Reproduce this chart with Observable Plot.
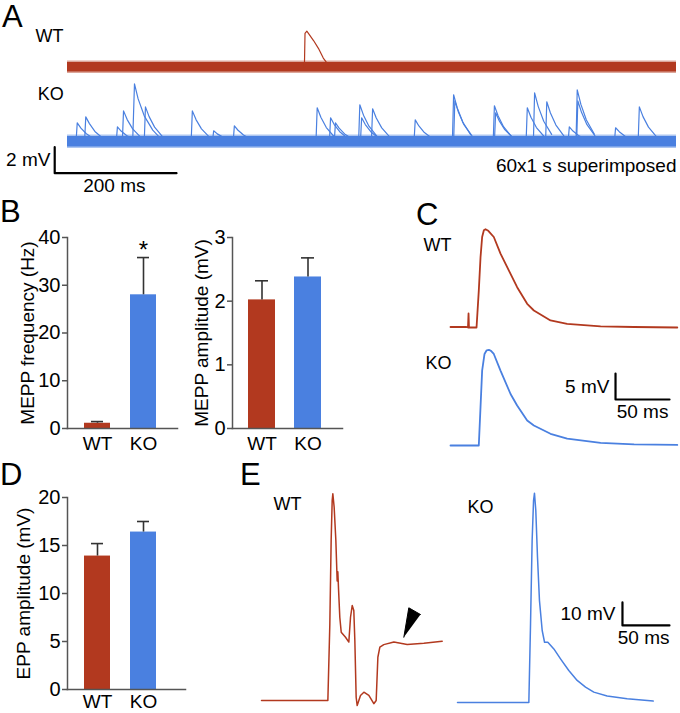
<!DOCTYPE html>
<html>
<head>
<meta charset="utf-8">
<script src="https://cdn.jsdelivr.net/npm/d3@7"></script>
<script src="https://cdn.jsdelivr.net/npm/@observablehq/plot@0.6"></script>
<style>
  html, body { margin: 0; padding: 0; background: #fff; }
  #fig { position: relative; width: 680px; height: 713px; overflow: hidden;
         font-family: "Liberation Sans", Arial, Helvetica, sans-serif; color: #000; }
  #fig svg { position: absolute; background: transparent !important; overflow: visible; }
  .letter { position: absolute; font-size: 31px; line-height: 31px; }
</style>
</head>
<body>
<div id="fig"></div>
<script>
// ---------------- DATA ----------------
// Panel A: 60 x 1 s sweeps superimposed (time in ms, voltage in mV relative to baseline)
const sweepSpanMs = [0, 1000];
const wtNoiseHalfWidth = 0.36;   // mV, half-thickness of the dense noise band
const koNoiseHalfWidth = 0.4;
const noiseFringe = 0.12;        // mV, lighter ragged fringe of the band
const koBaselineOffset = -5.74;  // mV, vertical offset of the KO row
const wtEventsA = [
  [[389,0],[390,2.6],[393,2.77],[404,2.05],[412,1.45],[420,0.7],[428,0.2]]
];
const koEventsA = [
  [[14,0],[16,1.46],[22,1.05],[31,0.62],[44,0.2]],
  [[28,0],[30,1.92],[36,1.4],[45,0.8],[58,0.28]],
  [[80,0],[82,1.15],[88,0.83],[97,0.48],[110,0.17]],
  [[90,0],[92,2.38],[98,1.71],[107,1.0],[120,0.36]],
  [[107,0],[110,4.46],[116,3.3],[126,2.0],[140,0.9],[150,0.4]],
  [[126,0],[128,2.69],[134,1.94],[143,1.13],[156,0.4]],
  [[203,0],[205,2.38],[211,1.71],[220,1.0],[233,0.36]],
  [[238,0],[240,0.85],[246,0.61],[255,0.36],[268,0.13]],
  [[272,0],[274,1.23],[280,0.89],[289,0.52],[302,0.18]],
  [[408,0],[410,2.62],[416,1.89],[425,1.1],[438,0.39]],
  [[430,0],[432,1.85],[438,1.33],[447,0.78],[460,0.28]],
  [[438,0],[440,1.46],[446,1.05],[455,0.61],[468,0.22]],
  [[478,0],[480,2.85],[486,2.05],[495,1.2],[508,0.43]],
  [[481,0],[483,1.85],[489,1.33],[498,0.78],[511,0.28]],
  [[499,0],[501,2.54],[507,1.83],[516,1.07],[529,0.38]],
  [[569,0],[571,1.69],[577,1.22],[586,0.71],[599,0.25]],
  [[632,0],[634,3.62],[640,2.61],[649,1.52],[662,0.54]],
  [[634,0],[636,3.15],[642,2.27],[651,1.32],[664,0.47]],
  [[699,0],[701,2.77],[707,2.0],[716,1.16],[729,0.42]],
  [[701,0],[703,2.23],[709,1.61],[718,0.94],[731,0.33]],
  [[753,0],[755,2.62],[761,1.89],[770,1.1],[783,0.39]],
  [[765,0],[767,3.77],[773,2.71],[782,1.58],[795,0.57]],
  [[785,0],[787,3.08],[793,2.22],[802,1.29],[815,0.46]],
  [[822,0],[824,1.15],[830,0.83],[839,0.48],[852,0.17]],
  [[835,0],[837,4.0],[843,2.88],[852,1.68],[865,0.6]],
  [[836,0],[838,3.15],[844,2.27],[853,1.32],[866,0.47]],
  [[898,0],[900,1.08],[906,0.78],[915,0.45],[928,0.16]],
  [[937,0],[939,2.69],[945,1.94],[954,1.13],[967,0.4]]
];
const scaleBarA = [[-21,-6.15],[-21,-8.15],[179,-8.15]]; // 2 mV / 200 ms

// Panel B: MEPP frequency and amplitude (mean, s.e.m.)
const groups = ["WT", "KO"];
const freqMean = [1.1, 28.0];
const freqSem  = [0.35, 7.8];
const ampMean  = [2.02, 2.38];
const ampSem   = [0.30, 0.30];
const freqTicks = [0, 10, 20, 30, 40];
const ampTicks  = [0, 1, 2, 3];

// Panel C: averaged MEPPs (ms, mV)
const koOffsetC = -22.69;
const wtTraceC = [[0,0.1],[14.8,0.1],[16.2,0],[16.7,2.7],[17.1,0],[24.1,0],[26.2,7.1],[27.8,13.5],[29.3,17.4],[30.9,18.7],[32.4,18.9],[35,18.6],[40.1,17.4],[46.3,14.2],[55.6,10.3],[61.7,7.75],[71,4.55],[77.2,3.27],[92.6,1.35],[108,0.7],[139,0.2],[170,0.1],[210,0]];
const koTraceC = [[0,0],[26.2,0],[27.8,7.4],[29.3,14.4],[31.5,17.6],[33.5,18.3],[35.5,18.4],[37.5,18.2],[40.1,17.6],[46.3,14.4],[55.6,9.9],[61.7,7.7],[71,4.8],[77.2,3.85],[92.6,2.25],[108,1.3],[139,0.5],[170,0.2],[210,0.1]];
const scaleBarC = [[152.8,-8.85],[152.8,-13.85],[202.8,-13.85]]; // 5 mV / 50 ms

// Panel D: EPP amplitude
const eppMean = [13.9, 16.4];
const eppSem  = [1.3, 1.1];
const eppTicks = [0, 5, 10, 15, 20];

// Panel E: EPP traces (ms, mV)
const wtTraceE = [[0,0],[70.6,0],[72.7,33.3],[74.1,69.6],[75.2,87],[75.9,89.9],[77.3,84],[79.1,69.6],[80.5,52],[81.2,56],[82,48],[83.3,36.2],[84.8,29.7],[89.4,27.5],[92.9,25.4],[94.7,36.2],[96.5,41.3],[98.2,39.1],[99.3,26.1],[100.7,1.4],[101.8,-2.2],[105.3,2.2],[108.9,3.6],[114.2,2.2],[119.5,-1.4],[122,0],[123.8,18.8],[125.9,23.2],[130.1,24.3],[140.8,25.4],[155,24.3],[172.7,24.9],[192.2,25.8]];
const arrowHeadE = [[151.4,27.5],[156.7,40.3],[169.1,37.4]];
const koTraceE = [[0,0],[75.9,0],[77.7,34.2],[79.4,70.4],[80.9,87.8],[81.9,91],[83.3,83.5],[85.1,63.2],[87.2,44.3],[90.1,31.3],[92.6,26.2],[96.1,26.2],[102.5,23.3],[109.6,19],[118.4,13.9],[127.3,9.6],[136.2,6.7],[145,4.5],[159.2,2.8],[180.5,1.6],[208.2,0.6]];
const scaleBarE = [[175.5,43.5],[175.5,33.5],[225.5,33.5]]; // 10 mV / 50 ms

// ---------------- STYLE ----------------
const RED = "#b2391f", BLUE = "#4a80e0", AXIS = "#555";
const FONT = '"Liberation Sans", Arial, Helvetica, sans-serif';
const baseStyle = {background: "transparent", fontFamily: FONT, fontSize: "18px", color: "#000", overflow: "visible"};
const fig = document.getElementById("fig");
function place(svg, left, top) {
  svg.style.left = left + "px"; svg.style.top = top + "px";
  fig.appendChild(svg);
}
function letter(ch, left, top) {
  const d = document.createElement("div");
  d.className = "letter"; d.textContent = ch;
  d.style.left = left + "px"; d.style.top = top + "px";
  fig.appendChild(d);
}
const toRows = (pts, offset = 0, id = 0) => pts.map(([t, v]) => ({id, t, v: v + offset}));
const eventRows = (events, offset) => events.flatMap((ev, id) => toRows(ev, offset, id));
const band = (center, half, fill, opacity = 1) =>
  Plot.areaY(sweepSpanMs, {x: d => d, y1: center - half, y2: center + half, fill, fillOpacity: opacity});

// ---------------- PANEL A ----------------
place(Plot.plot({
  width: 680, height: 200, margin: 0, style: baseStyle,
  x: {domain: [0, 1000], range: [67, 676], axis: null},
  y: {domain: [-9, 4], range: [183.7, 14.7], axis: null},
  marks: [
    band(0, wtNoiseHalfWidth + noiseFringe, RED, 0.45),
    band(0, wtNoiseHalfWidth, RED),
    Plot.line(eventRows(wtEventsA, 0), {x: "t", y: "v", z: "id", stroke: RED, strokeWidth: 1.2}),
    band(koBaselineOffset, koNoiseHalfWidth + noiseFringe, BLUE, 0.45),
    band(koBaselineOffset, koNoiseHalfWidth, BLUE),
    Plot.line(eventRows(koEventsA, koBaselineOffset), {x: "t", y: "v", z: "id", stroke: BLUE, strokeWidth: 1.2}),
    Plot.line(toRows(scaleBarA), {x: "t", y: "v", stroke: "#000", strokeWidth: 2.2}),
    Plot.text(["WT"], {x: -52.5, y: 2.38, text: d => d, textAnchor: "start", fontSize: 18}),
    Plot.text(["KO"], {x: -49, y: -2.1, text: d => d, textAnchor: "start", fontSize: 18}),
    Plot.text(["2 mV"], {x: -28, y: -7.15, text: d => d, textAnchor: "end", fontSize: 19}),
    Plot.text(["200 ms"], {x: 77, y: -9.1, text: d => d, fontSize: 19}),
    Plot.text(["60x1 s superimposed"], {x: 1000, y: -7.56, text: d => d, textAnchor: "end", fontSize: 19})
  ]
}), 0, 0);

// ---------------- BAR PANELS ----------------
function barPanel({width, height, ml, mr, mt, mb, xRange, pad, yDomain, ticks, label, labelOffset, means, sems, star, xPad = 8}) {
  const rows = groups.map((g, i) => ({g, m: means[i], s: sems[i]}));
  const marks = [
    Plot.barY(rows, {x: "g", y: "m", fill: "g"}),
    Plot.ruleX(rows, {x: "g", y1: "m", y2: d => d.m + d.s, stroke: "#333", strokeWidth: 1.6}),
    Plot.tickY(rows, {x: "g", y: d => d.m + d.s, stroke: "#333", strokeWidth: 1.6, insetLeft: 7, insetRight: 7}),
    Plot.frame({anchor: "left", stroke: AXIS, strokeWidth: 1.5}),
    Plot.frame({anchor: "bottom", stroke: AXIS, strokeWidth: 1.5}),
    Plot.axisY({ticks, tickFormat: d => String(d), tickSize: 5, tickPadding: 2, fontSize: 20, stroke: AXIS, strokeWidth: 1.5, fill: "#000",
                label: null}),
    Plot.axisY({ticks: [], tickSize: 0, fontSize: 19, fill: "#000",
                label, labelAnchor: "center", labelArrow: "none", labelOffset}),
    Plot.axisX({tickSize: 0, tickPadding: xPad, fontSize: 19, fill: "#000", label: null})
  ];
  if (star) marks.push(Plot.text(rows.filter(d => d.g === star.g), {x: "g", y: star.y, text: () => "*", fontSize: 24}));
  return Plot.plot({
    width, height, marginLeft: ml, marginRight: mr, marginTop: mt, marginBottom: mb, style: baseStyle,
    x: {type: "band", domain: groups, range: xRange, paddingInner: pad, paddingOuter: 0},
    y: {domain: yDomain},
    color: {domain: groups, range: [RED, BLUE]},
    marks
  });
}

place(barPanel({width: 200, height: 270, ml: 67, mr: 23, mt: 47, mb: 32, xRange: [83, 157], pad: 0.4255,
  yDomain: [0, 40], ticks: freqTicks, label: "MEPP frequency (Hz)", labelOffset: 47,
  means: freqMean, sems: freqSem, star: {g: "KO", y: 37.3}}), 0, 190);

place(barPanel({width: 160, height: 270, ml: 32, mr: 18, mt: 47, mb: 32, xRange: [48, 122], pad: 0.41,
  yDomain: [0, 3], ticks: ampTicks, label: "MEPP amplitude (mV)", labelOffset: 38,
  means: ampMean, sems: ampSem}), 200, 190);

place(barPanel({width: 200, height: 253, ml: 67, mr: 15, mt: 37, mb: 24, xRange: [83, 157], pad: 0.4255,
  yDomain: [0, 20], ticks: eppTicks, label: "EPP amplitude (mV)", labelOffset: 51,
  means: eppMean, sems: eppSem, xPad: 5}), 0, 460);

// ---------------- PANEL C ----------------
place(Plot.plot({
  width: 280, height: 290, margin: 0, style: baseStyle,
  x: {domain: [0, 210], range: [50, 276.8], axis: null},
  y: {domain: [-28, 26], range: [282.6, 1.8], axis: null},
  marks: [
    Plot.line(toRows(wtTraceC), {x: "t", y: "v", stroke: RED, strokeWidth: 1.8}),
    Plot.line(toRows(koTraceC, koOffsetC), {x: "t", y: "v", stroke: BLUE, strokeWidth: 1.8}),
    Plot.line(toRows(scaleBarC), {x: "t", y: "v", stroke: "#000", strokeWidth: 2.2}),
    Plot.text(["WT"], {x: -25, y: 15.8, text: d => d, textAnchor: "start", fontSize: 18}),
    Plot.text(["KO"], {x: -23.1, y: -6.9, text: d => d, textAnchor: "start", fontSize: 18}),
    Plot.text(["5 mV"], {x: 147.2, y: -11.5, text: d => d, textAnchor: "end", fontSize: 19}),
    Plot.text(["50 ms"], {x: 177.8, y: -16.3, text: d => d, fontSize: 19})
  ]
}), 400, 190);

// ---------------- PANEL E ----------------
place(Plot.plot({
  width: 215, height: 233, margin: 0, style: baseStyle,
  x: {domain: [0, 200], range: [21, 209], axis: null},
  y: {domain: [-5, 95], range: [231.5, 1.5], axis: null},
  marks: [
    Plot.line(toRows(wtTraceE), {x: "t", y: "v", stroke: RED, strokeWidth: 1.5}),
    Plot.line(toRows(arrowHeadE), {x: "t", y: "v", fill: "#000", stroke: "#000", strokeWidth: 1}),
    Plot.text(["WT"], {x: 12.8, y: 85.2, text: d => d, textAnchor: "start", fontSize: 18})
  ]
}), 240, 480);

place(Plot.plot({
  width: 225, height: 233, margin: 0, style: baseStyle,
  x: {domain: [0, 230], range: [2, 218.2], axis: null},
  y: {domain: [-5, 95], range: [233.5, 3.5], axis: null},
  marks: [
    Plot.line(toRows(koTraceE), {x: "t", y: "v", stroke: BLUE, strokeWidth: 1.5}),
    Plot.line(toRows(scaleBarE), {x: "t", y: "v", stroke: "#000", strokeWidth: 2.2}),
    Plot.text(["KO"], {x: 10.6, y: 84.8, text: d => d, textAnchor: "start", fontSize: 18}),
    Plot.text(["10 mV"], {x: 168, y: 38.7, text: d => d, textAnchor: "end", fontSize: 19}),
    Plot.text(["50 ms"], {x: 198, y: 28.3, text: d => d, fontSize: 19})
  ]
}), 455, 480);

// ---------------- PANEL LETTERS ----------------
letter("A", 2, 1);
letter("B", 0, 196);
letter("C", 416, 199);
letter("D", 0, 459);
letter("E", 240, 459);
</script>
</body>
</html>
